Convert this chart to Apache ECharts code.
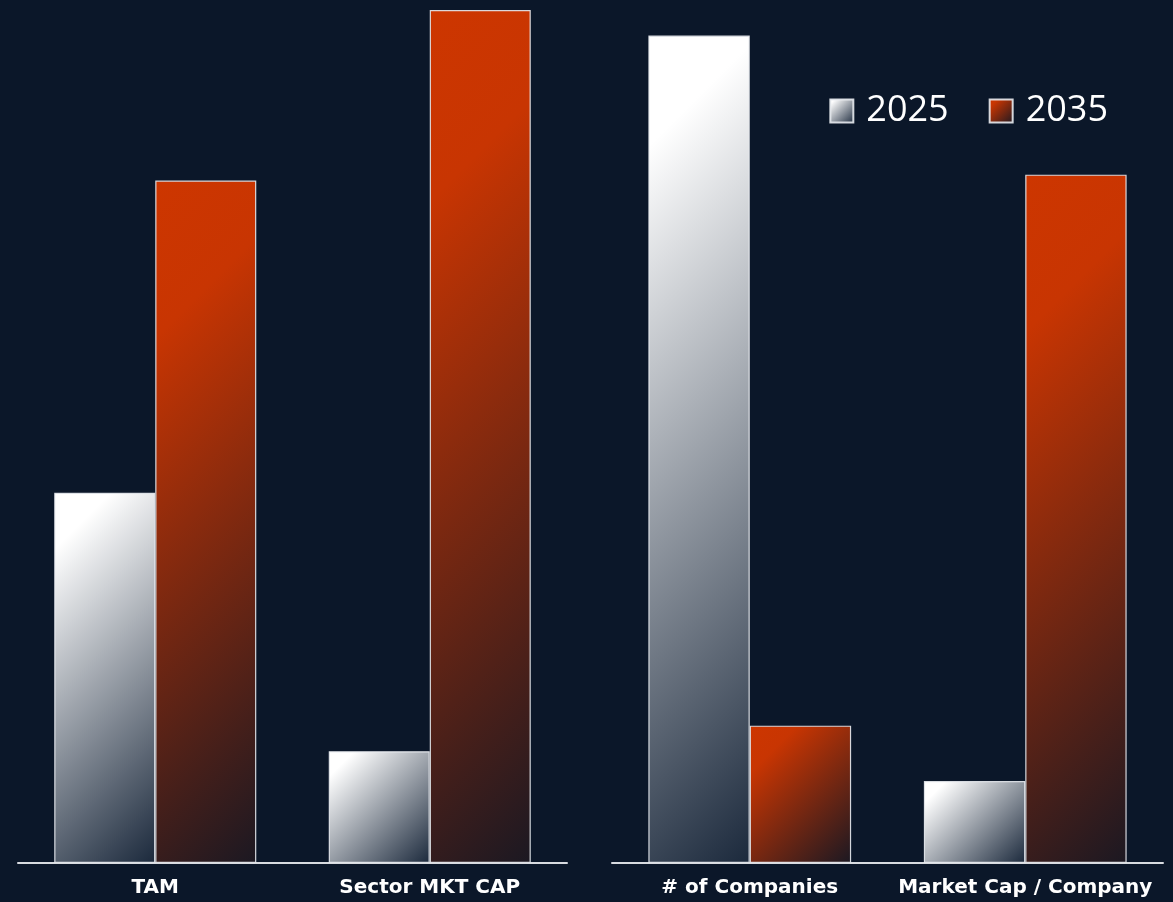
<!DOCTYPE html>
<html>
<head>
<meta charset="utf-8">
<script src="https://cdn.jsdelivr.net/npm/echarts@6/dist/echarts.min.js"></script>
<style>
html,body{margin:0;padding:0;background:#0b1729;}
#chart{width:1173px;height:902px;}
</style>
</head>
<body>
<div id="chart"></div>
<script>
const leftCategories = ['TAM', 'Sector MKT CAP'];
const rightCategories = ['# of Companies', 'Market Cap / Company'];
const seriesNames = ['2025', '2035'];
const left2025 = [43.4, 13.1];
const left2035 = [80.0, 100];
const right2025 = [97.0, 9.6];
const right2035 = [16.1, 80.7];

const AXIS_MAX = 100;
const PLOT_H = 853;   // grid height in px (902 - 10 - 39)
const BAR_W = 101;    // approximate bar width in px

const stops2025 = [
  {offset: 0, color: '#ffffff'},
  {offset: 0.12, color: '#ffffff'},
  {offset: 1, color: '#1b293c'}
];
const stops2035 = [
  {offset: 0, color: '#cd3600'},
  {offset: 0.2, color: '#c83502'},
  {offset: 1, color: '#1b1822'}
];

// 135deg-style gradient (isolines at 45 degrees) expressed in bar-relative coords
function diagGradient(v, stops) {
  const h = Math.max(1, v / AXIS_MAX * PLOT_H);
  const w = BAR_W;
  const half = (w + h) / 4;
  const x0 = (w / 2 - half) / w, y0 = (h / 2 - half) / h;
  const x1 = (w / 2 + half) / w, y1 = (h / 2 + half) / h;
  return new echarts.graphic.LinearGradient(x0, y0, x1, y1, stops);
}
function items(arr, stops) {
  return arr.map(v => ({value: v, itemStyle: {color: diagGradient(v, stops)}}));
}
function squareGradient(stops) {
  return new echarts.graphic.LinearGradient(0, 0, 1, 1, stops);
}

const chart = echarts.init(document.getElementById('chart'));
const axisLabel = {color: '#ffffff', fontSize: 20, fontWeight: 'bold', fontFamily: '"DejaVu Sans", sans-serif', margin: 15, interval: 0};
const axisLine = {lineStyle: {color: '#d8dbe0', width: 2}};
const barBase = {type: 'bar', barGap: '0%', barCategoryGap: '26.4%'};
const border = {borderColor: 'rgba(232,235,240,0.9)', borderWidth: 1.2};

chart.setOption({
  backgroundColor: '#0b1729',
  animation: false,
  legend: {
    data: seriesNames,
    icon: 'rect',
    right: 60, top: 88,
    itemWidth: 23, itemHeight: 23, itemGap: 40,
    textStyle: {color: '#ffffff', fontSize: 36, fontFamily: '"Open Sans", sans-serif', padding: [0,0,0,8]}
  },
  grid: [
    {left: 18, right: 606, top: 10, bottom: 39},
    {left: 612, right: 10, top: 10, bottom: 39}
  ],
  xAxis: [
    {type: 'category', gridIndex: 0, data: leftCategories, axisTick: {show: false}, axisLine: axisLine, axisLabel: axisLabel},
    {type: 'category', gridIndex: 1, data: rightCategories, axisTick: {show: false}, axisLine: axisLine, axisLabel: axisLabel}
  ],
  yAxis: [
    {type: 'value', gridIndex: 0, min: 0, max: AXIS_MAX, show: false, splitLine: {show: false}},
    {type: 'value', gridIndex: 1, min: 0, max: AXIS_MAX, show: false, splitLine: {show: false}}
  ],
  series: [
    Object.assign({}, barBase, {name: seriesNames[0], xAxisIndex: 0, yAxisIndex: 0, data: items(left2025, stops2025),
      itemStyle: Object.assign({color: squareGradient(stops2025)}, border)}),
    Object.assign({}, barBase, {name: seriesNames[1], xAxisIndex: 0, yAxisIndex: 0, data: items(left2035, stops2035),
      itemStyle: Object.assign({color: squareGradient(stops2035)}, border)}),
    Object.assign({}, barBase, {name: seriesNames[0], xAxisIndex: 1, yAxisIndex: 1, data: items(right2025, stops2025),
      itemStyle: Object.assign({color: squareGradient(stops2025)}, border)}),
    Object.assign({}, barBase, {name: seriesNames[1], xAxisIndex: 1, yAxisIndex: 1, data: items(right2035, stops2035),
      itemStyle: Object.assign({color: squareGradient(stops2035)}, border)})
  ]
});
</script>
</body>
</html>
